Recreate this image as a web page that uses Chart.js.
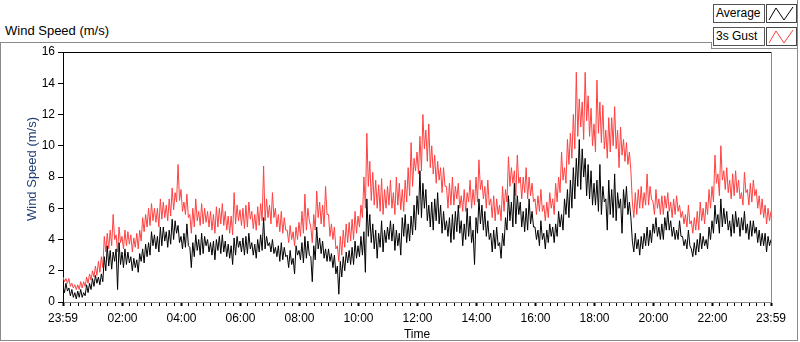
<!DOCTYPE html>
<html><head><meta charset="utf-8">
<script src="https://cdn.jsdelivr.net/npm/chart.js@4.4.0/dist/chart.umd.min.js"></script>
<style>
html,body{margin:0;padding:0;background:#fff;}
#wrap{position:relative;width:800px;height:342px;overflow:hidden;font-family:"Liberation Sans",Arial,sans-serif;font-size:12px;color:#000;}
#c{position:absolute;left:0;top:0;}
.ln{position:absolute;background:#8a8a8a;}
#ttl{position:absolute;left:5px;top:23px;white-space:nowrap;font-size:13px;}
.lbox{position:absolute;left:713px;width:48px;height:17px;border:1px solid #555;background:#fff;line-height:17px;padding-left:2px;box-sizing:content-box;}
.ibox{position:absolute;left:766px;width:29px;height:17px;border:1px solid #444;background:#fff;}
.ibox svg{position:absolute;left:0;top:0;}
</style></head>
<body><div id="wrap">
<div class="ln" style="left:0;top:42px;width:712px;height:1px"></div>
<div class="ln" style="left:711px;top:42px;width:1px;height:7px"></div>
<div class="ln" style="left:711px;top:48px;width:87px;height:1px"></div>
<div class="ln" style="left:0;top:42px;width:1px;height:299px"></div>
<div class="ln" style="left:0;top:340px;width:798px;height:1px"></div>
<div class="ln" style="left:797px;top:0;width:1px;height:341px"></div>
<div id="ttl">Wind Speed (m/s)</div>
<div class="lbox" style="top:4px">Average</div>
<div class="ibox" style="top:4px"><svg width="29" height="17"><polyline points="2,15 9,3 17,15 26,2" fill="none" stroke="#000" stroke-width="1"/></svg></div>
<div class="lbox" style="top:27px">3s Gust</div>
<div class="ibox" style="top:27px"><svg width="29" height="17"><polyline points="2,15 9,3 17,15 26,2" fill="none" stroke="#ff4040" stroke-width="1"/></svg></div>
<canvas id="c" width="800" height="342"></canvas>
</div>
<script>
// minutes since 23:59 (previous day), one sample every 3 minutes (20 per hour)
const stepMinutes = 3;
const averageSpeed = [
 1.0,0.6,1.2,0.7,0.9,0.4,0.8,0.3,0.6,0.2,0.7,0.3,0.8,0.3,0.6,0.4,1.1,0.6,1.2,0.8,
 1.5,1.0,1.7,1.2,1.6,1.1,1.8,1.3,2.9,2.0,3.6,2.3,3.3,2.1,3.2,2.6,3.4,0.8,3.8,2.4,
 3.2,2.2,3.4,2.4,3.2,2.5,2.9,2.0,2.8,2.2,2.7,1.9,3.1,2.6,3.4,2.5,3.7,2.9,3.8,3.0,
 4.5,3.6,4.3,3.4,4.2,3.2,4.8,3.6,4.8,3.9,4.5,3.5,4.6,3.7,5.3,4.0,5.2,4.4,4.9,3.8,
 4.2,3.4,4.4,3.5,5.0,3.6,3.5,2.2,3.8,2.9,4.3,3.3,4.0,3.0,4.4,3.1,4.2,3.6,4.0,3.2,
 3.8,3.0,3.9,2.7,4.0,3.3,4.2,3.1,4.3,3.2,3.9,2.9,3.7,2.8,3.6,2.4,4.1,3.0,4.2,3.5,
 3.9,3.2,4.1,3.0,4.2,3.1,4.4,3.4,3.8,3.0,3.7,2.8,4.0,3.2,4.3,3.3,5.4,3.4,4.2,3.6,
 3.8,3.2,4.0,3.1,3.5,2.9,3.6,2.6,3.8,2.7,3.5,2.9,3.0,2.2,3.3,2.4,2.8,1.8,3.6,3.0,
 3.3,2.7,3.8,2.5,4.2,2.8,3.9,3.0,2.9,1.3,3.6,2.7,4.8,3.4,4.1,3.1,3.9,2.8,3.4,2.6,
 3.4,2.6,3.1,2.2,3.0,1.8,2.3,0.5,2.6,1.6,2.9,2.0,3.2,2.5,3.3,2.4,3.5,2.4,3.9,2.8,
 3.6,2.9,4.2,3.0,4.5,1.9,6.6,4.2,5.6,3.8,5.0,3.4,4.6,2.8,4.4,3.5,5.2,3.2,4.6,3.8,
 4.8,4.0,5.2,3.9,5.0,3.3,4.6,3.6,4.4,3.0,5.4,4.2,5.6,3.8,5.0,3.9,5.5,4.3,6.2,4.6,
 6.8,5.6,8.4,5.4,7.6,6.0,7.2,5.2,6.2,4.8,6.4,4.6,6.6,5.2,7.0,5.0,6.2,4.4,5.8,4.6,
 5.2,4.2,5.4,3.8,5.6,4.0,5.8,4.5,6.2,4.4,5.2,3.6,5.0,4.0,6.0,4.2,5.5,3.8,4.6,2.4,
 5.4,4.4,6.6,5.0,6.2,4.6,5.8,4.2,5.2,4.0,4.4,3.2,4.6,3.4,4.8,3.6,3.8,2.8,4.4,3.6,
 5.4,4.6,6.8,5.2,6.4,4.8,7.6,5.0,6.8,5.6,6.4,4.8,5.8,4.5,6.0,4.6,6.6,5.0,5.8,4.8,
 4.8,4.0,4.6,3.6,5.2,4.0,4.4,3.4,4.6,3.8,5.0,4.2,4.8,3.8,5.0,4.2,5.8,4.8,5.6,4.6,
 6.6,5.6,7.2,5.4,7.8,6.0,8.6,6.6,9.2,7.4,10.4,7.2,9.8,8.0,9.2,6.8,8.8,6.6,8.4,6.2,
 7.6,6.2,7.8,5.8,8.8,5.6,7.4,6.4,6.6,4.6,7.8,5.6,7.2,5.4,8.2,5.2,7.0,6.0,6.6,4.4,
 7.2,6.0,7.4,5.6,6.4,5.4,3.9,3.2,4.4,3.4,4.0,3.0,4.2,3.4,4.4,3.6,4.8,3.6,4.6,3.8,
 5.0,4.4,5.4,4.2,4.8,4.0,5.0,4.0,5.4,4.6,5.8,4.6,5.2,4.2,4.8,4.0,4.6,4.0,5.2,4.2,
 4.2,3.6,4.0,3.4,4.6,3.6,3.4,2.9,3.8,3.0,4.0,3.2,4.4,3.4,4.2,3.6,4.0,3.4,4.8,4.0,
 5.2,4.4,6.2,5.0,5.6,4.4,6.6,4.8,6.0,5.0,5.8,4.6,5.2,4.2,5.6,4.4,5.8,4.8,5.4,4.2,
 5.4,4.6,5.8,4.4,5.0,4.0,5.2,4.2,5.2,4.4,4.8,3.8,4.6,3.6,4.4,3.6,4.4,3.2,4.2,3.6,
 4.0
];
const gustSpeed = [
 1.6,1.3,1.5,1.2,1.5,1.0,1.2,0.9,1.1,0.8,1.1,0.8,1.3,0.9,1.3,1.0,1.6,1.2,1.8,1.4,
 2.0,1.6,2.3,1.7,2.6,1.9,2.9,2.2,4.2,3.2,4.4,3.4,4.6,3.6,5.6,4.0,4.3,3.2,4.8,3.8,
 4.2,3.4,4.6,3.6,4.5,3.7,4.3,3.2,4.1,3.5,4.4,3.4,4.6,3.9,5.4,4.5,5.6,4.8,6.0,4.9,
 6.3,5.2,6.0,5.1,6.0,4.8,6.6,5.3,6.4,5.4,6.2,5.2,6.6,5.5,7.3,5.9,7.0,6.4,8.8,6.5,
 7.2,5.8,6.4,5.6,6.9,5.4,5.6,4.4,6.0,4.8,6.6,5.2,5.8,4.9,6.3,5.0,6.0,5.1,5.8,4.8,
 5.8,4.6,5.6,4.4,6.1,4.8,6.0,5.0,6.3,4.9,5.8,4.6,5.5,4.4,5.5,4.3,7.0,5.0,6.2,5.2,
 5.9,4.9,6.0,4.7,6.2,4.8,6.4,5.3,5.8,4.7,5.6,4.6,6.1,4.9,6.3,5.2,8.7,5.2,6.6,5.4,
 6.2,5.0,7.0,5.4,6.0,4.8,5.6,4.5,5.8,4.4,5.4,4.6,4.6,3.8,4.9,4.0,4.5,3.6,4.8,4.0,
 5.1,4.2,5.8,4.4,6.9,4.6,6.0,5.2,4.8,3.8,5.6,4.6,7.1,5.4,6.4,5.0,6.2,4.8,7.4,5.6,
 5.6,4.2,5.0,4.0,4.8,3.4,3.6,2.6,4.2,3.0,4.6,3.5,5.0,3.8,5.1,3.9,5.3,4.0,5.8,4.4,
 5.5,4.8,6.2,5.4,8.0,6.0,10.8,7.4,9.0,6.5,8.3,6.2,7.8,6.0,7.5,5.8,7.9,5.6,7.2,6.0,
 7.4,6.2,7.8,6.0,7.0,5.6,8.0,6.2,7.6,5.9,7.2,5.8,7.8,6.4,8.6,6.8,10.2,7.4,9.2,8.4,
 9.6,8.2,10.6,8.4,12.0,9.8,11.0,9.0,11.4,8.6,10.0,8.2,9.4,7.6,9.0,7.8,8.6,7.0,8.6,7.4,
 7.4,6.0,7.6,6.2,8.0,6.2,7.4,6.6,7.6,6.0,6.8,5.8,7.2,5.8,7.0,6.4,7.8,6.0,7.2,6.2,
 8.0,6.4,9.1,7.2,7.8,6.6,7.4,6.0,7.8,6.2,6.6,5.4,6.8,5.2,6.6,5.6,6.2,5.2,7.4,5.8,
 7.2,6.4,9.3,7.4,8.6,7.6,8.4,6.8,9.4,7.6,8.0,6.6,8.0,7.0,8.6,6.6,8.0,6.8,7.6,6.4,
 6.6,5.6,6.8,5.8,7.2,5.8,6.2,5.2,6.4,5.4,7.0,6.0,6.6,5.6,7.6,6.4,8.0,7.0,9.6,7.8,
 8.6,7.6,10.4,8.8,10.8,9.2,12.0,9.8,14.7,10.6,13.0,11.2,12.8,10.4,14.7,11.6,13.2,10.6,12.4,10.0,
 11.4,9.6,14.2,10.8,12.8,10.2,12.6,9.8,11.0,9.2,11.8,9.6,11.8,10.0,12.5,9.8,11.0,8.6,11.2,9.4,
 10.4,9.0,10.2,8.8,9.6,8.4,6.4,5.4,7.0,5.6,7.2,6.0,7.4,6.0,7.0,6.2,8.2,6.2,7.4,6.6,
 6.4,5.6,7.2,6.0,6.6,5.6,6.8,5.6,6.8,6.0,7.0,5.8,6.4,5.4,6.6,5.6,6.8,5.8,6.2,5.4,
 5.8,5.0,5.6,4.8,6.2,5.0,5.2,4.4,5.4,4.6,5.8,4.6,6.4,5.2,6.0,5.0,6.4,5.6,7.2,6.0,
 7.4,6.4,9.4,7.6,8.2,6.8,10.0,7.8,8.4,7.2,8.6,7.0,7.8,6.6,8.2,6.8,8.4,7.0,7.8,6.6,
 7.0,6.2,8.3,7.0,7.2,6.2,7.6,6.4,7.8,6.8,7.2,6.0,6.8,5.6,6.6,5.4,6.2,5.0,6.0,5.2,
 5.8
];
const majorTickMinutes = [0,121,241,361,481,601,721,841,961,1081,1201,1321,1440];
const majorTickLabels = ['23:59','02:00','04:00','06:00','08:00','10:00','12:00','14:00','16:00','18:00','20:00','22:00','23:59'];
const yTicks = [0,2,4,6,8,10,12,14,16];
const yTitle = 'Wind Speed (m/s)';

const FONT = '"Liberation Sans", Arial, sans-serif';
const avgPts = averageSpeed.map((v,i)=>({x:i*stepMinutes,y:v}));
const gustPts = gustSpeed.map((v,i)=>({x:i*stepMinutes,y:v}));

// minor ticks every 15 minutes from 00:00
const allTicks = new Set(majorTickMinutes);
for (let m = 16; m < 1440; m += 15) allTicks.add(m);
const tickList = Array.from(allTicks).sort((a,b)=>a-b);
const isMajor = v => majorTickMinutes.indexOf(v) >= 0;

const frameLines = {
  id:'frameLines',
  afterDraw(chart){
    const {ctx, chartArea:a} = chart;
    ctx.save();
    ctx.lineWidth = 1;
    ctx.strokeStyle = '#000';
    ctx.beginPath(); ctx.moveTo(a.left, a.top+0.5); ctx.lineTo(a.right, a.top+0.5); ctx.stroke();
    ctx.strokeStyle = '#8a8a8a';
    ctx.beginPath(); ctx.moveTo(a.right+0.5, a.top); ctx.lineTo(a.right+0.5, a.bottom); ctx.stroke();
    // y axis title
    ctx.translate(32, (a.top + a.bottom)/2 - 8);
    ctx.rotate(-Math.PI/2);
    ctx.fillStyle = '#1f3e75';
    ctx.font = '13px ' + FONT;
    ctx.textAlign = 'center';
    ctx.textBaseline = 'middle';
    ctx.fillText(yTitle, 0, 0);
    ctx.restore();
  }
};

new Chart(document.getElementById('c'), {
  type:'line',
  data:{datasets:[
    {label:'Average', data:avgPts, borderColor:'#000000', borderWidth:1, pointRadius:0, fill:false, tension:0},
    {label:'3s Gust', data:gustPts, borderColor:'#ff4040', borderWidth:1, pointRadius:0, fill:false, tension:0}
  ]},
  options:{
    responsive:false, animation:false, events:[],
    layout:{padding:{left:0,right:29,top:52,bottom:0}},
    plugins:{legend:{display:false}, tooltip:{enabled:false}},
    scales:{
      x:{type:'linear', min:0, max:1440,
        afterBuildTicks: s => { s.ticks = tickList.map(v=>({value:v})); },
        afterFit: s => { s.height = 40; },
        ticks:{autoSkip:false, maxRotation:0, minRotation:0, padding:5, color:'#000', font:{family:FONT,size:12},
          callback: v => { const i = majorTickMinutes.indexOf(v); return i>=0 ? majorTickLabels[i] : ''; }},
        grid:{drawOnChartArea:false, drawTicks:true, tickLength:4, tickColor:'#000',
          tickWidth: c => (c.tick && isMajor(c.tick.value)) ? 2 : 1},
        border:{display:true, color:'#8a8a8a', width:1},
        title:{display:true, text:'Time', color:'#000', font:{family:FONT,size:12}, padding:{top:0,bottom:0}}
      },
      y:{min:0, max:16,
        afterBuildTicks: s => { s.ticks = yTicks.map(v=>({value:v})); },
        afterFit: s => { s.width = 63; },
        ticks:{padding:3, color:'#000', font:{family:FONT,size:12}},
        grid:{drawOnChartArea:false, drawTicks:true, tickLength:5, tickColor:'#000'},
        border:{display:true, color:'#000', width:1},
        title:{display:false}
      }
    }
  },
  plugins:[frameLines]
});
</script>
</body></html>
